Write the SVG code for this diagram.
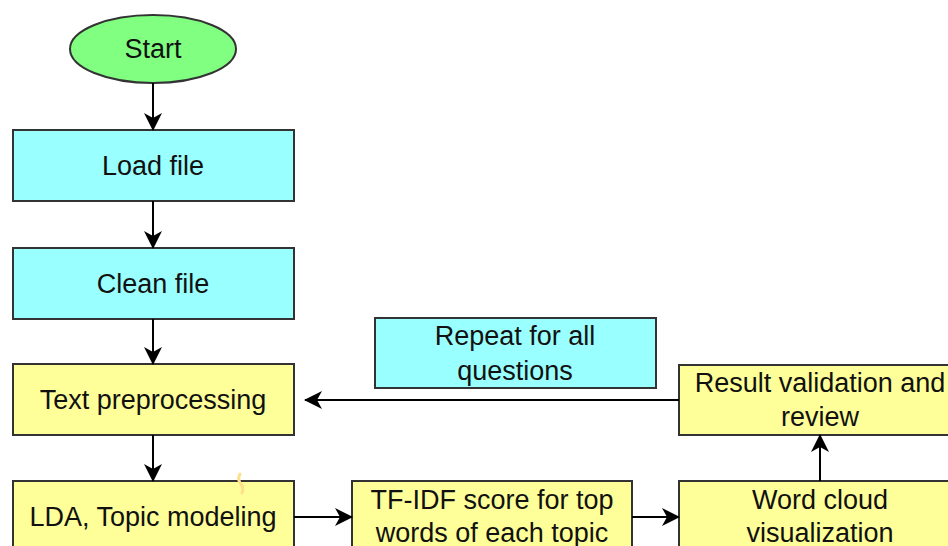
<svg xmlns="http://www.w3.org/2000/svg" width="948" height="546" viewBox="0 0 948 546">
<style>
.box{stroke:#333;stroke-width:2}
.cyan{fill:#99ffff}
.yel{fill:#ffff99}
.grn{fill:#80ff80}
text{font-family:"Liberation Sans",Arial,sans-serif;font-size:27px;fill:#111;text-anchor:middle}
.edge{stroke:#000;stroke-width:2;fill:none;marker-end:url(#ah)}
</style>
<defs>
<marker id="ah" markerUnits="userSpaceOnUse" markerWidth="18" markerHeight="18" refX="17" refY="9" orient="auto" viewBox="0 0 18 18">
<path d="M0,0 L18,9 L0,18 L5,9 Z" fill="#000"/>
</marker>
</defs>
<rect width="948" height="546" fill="#fff"/>
<g id="start"><ellipse class="box grn" cx="153" cy="49" rx="83" ry="34"/><text x="153" y="58">Start</text></g>
<g id="load"><rect class="box cyan" x="13" y="130" width="281" height="71"/><text x="153" y="175">Load file</text></g>
<g id="clean"><rect class="box cyan" x="13" y="248" width="281" height="71"/><text x="153" y="293">Clean file</text></g>
<g id="textpre"><rect class="box yel" x="13" y="364" width="281" height="71"/><text x="153" y="409">Text preprocessing</text></g>
<g id="lda"><rect class="box yel" x="13" y="481" width="281" height="71"/><text x="153" y="526">LDA, Topic modeling</text></g>
<g id="tfidf"><rect class="box yel" x="352" y="481" width="280" height="71"/><text x="492" y="509">TF-IDF score for top</text><text x="492" y="542">words of each topic</text></g>
<g id="wordcloud"><rect class="box yel" x="679" y="481" width="281" height="71"/><text x="820" y="509">Word cloud</text><text x="820" y="542">visualization</text></g>
<g id="result"><rect class="box yel" x="679" y="365" width="281" height="70"/><text x="820" y="392">Result validation and</text><text x="820" y="426">review</text></g>
<g id="repeat"><rect class="box cyan" x="375" y="318" width="281" height="70"/><text x="515" y="345">Repeat for all</text><text x="515" y="380">questions</text></g>
<g id="connectors">
<path class="edge" d="M153,83 V130"/>
<path class="edge" d="M153,201 V248"/>
<path class="edge" d="M153,319 V364"/>
<path class="edge" d="M153,435 V481"/>
<path class="edge" d="M294,517 H352"/>
<path class="edge" d="M632,517 H679"/>
<path class="edge" d="M820,481 V435"/>
<path class="edge" d="M679,400 H305"/>
</g>
<path d="M240,474 q-3,6 1,10 q3,4 1,9" stroke="#ffe08a" stroke-width="3" fill="none" stroke-linecap="round"/>
</svg>
